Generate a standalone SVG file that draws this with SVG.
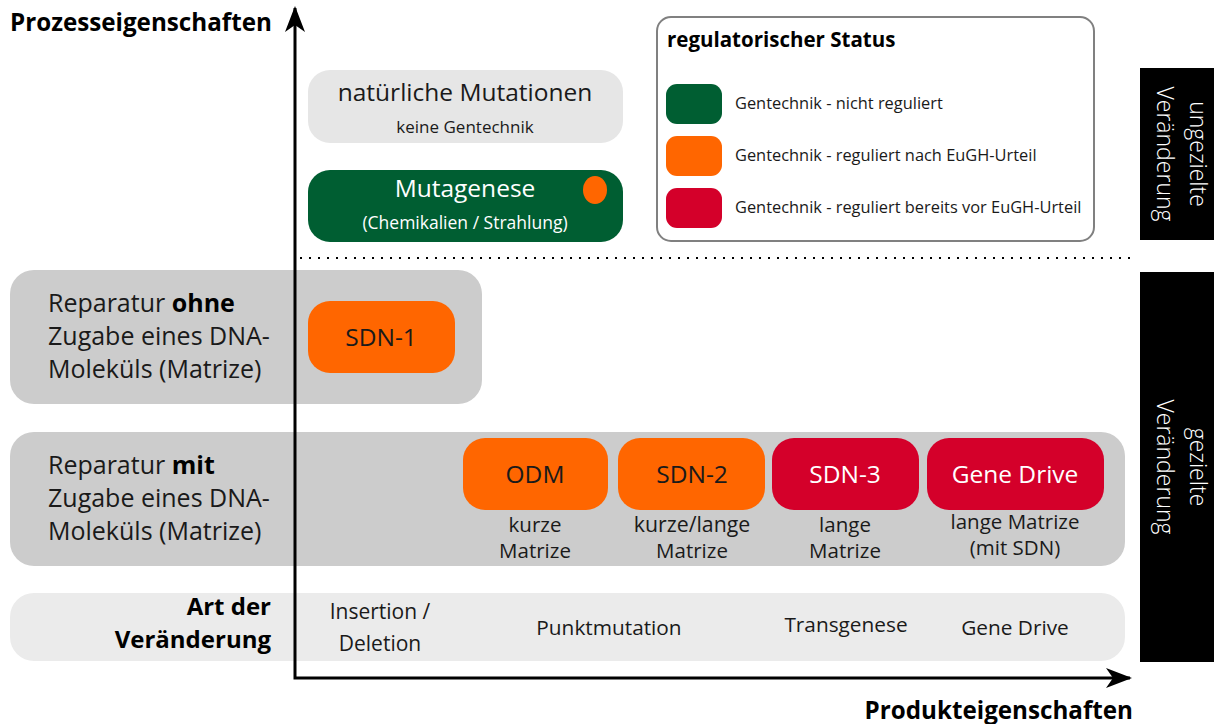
<svg xmlns="http://www.w3.org/2000/svg" width="1214" height="724" viewBox="0 0 1214 724">
<style>
text{font-family:"Open Sans","Noto Sans","Liberation Sans",sans-serif;fill:#1a1a1a}
.b{font-weight:700;fill:#000}
.big{font-size:24.5px}
.row{font-size:25px}
.mid{font-size:20.8px}
.cap{font-size:20.5px}
.sm{font-size:17px}
.lg{font-size:16.4px}
.c{text-anchor:middle}
.w{fill:#fff}
.or{fill:#ff6600}
.gr{fill:#005e32}
.rd{fill:#d4002a}
.side{font-size:23px;fill:#fff;font-weight:300;text-anchor:middle}
</style>
<defs>
<marker id="ah" markerUnits="userSpaceOnUse" markerWidth="30" markerHeight="24" viewBox="-26 -12 30 24" refX="0" refY="0" orient="auto-start-reverse">
<path d="M2,0 L-24,-10 L-17,0 L-24,10 Z" fill="#000"/>
</marker>
</defs>
<rect width="1214" height="724" fill="#fff"/>

<g id="row-ohne">
<rect x="10" y="270" width="472" height="134" rx="24" fill="#cccccc"/>
<text x="48" y="312" class="row">Reparatur <tspan class="b">ohne</tspan></text>
<text x="48" y="345" class="row">Zugabe eines DNA-</text>
<text x="48" y="378" class="row">Moleküls (Matrize)</text>
</g>
<g id="row-mit">
<rect x="10" y="432" width="1115" height="134" rx="24" fill="#cccccc"/>
<text x="48" y="474" class="row">Reparatur <tspan class="b">mit</tspan></text>
<text x="48" y="507" class="row">Zugabe eines DNA-</text>
<text x="48" y="540" class="row">Moleküls (Matrize)</text>
</g>
<g id="row-art">
<rect x="10" y="593" width="1115" height="68" rx="24" fill="#ebebeb"/>
<text x="271" y="615" class="b" font-size="24" text-anchor="end">Art der</text>
<text x="271" y="648" class="b" font-size="24" text-anchor="end">Veränderung</text>
<text x="380" y="619" class="c" font-size="21">Insertion /</text>
<text x="380" y="651" class="c" font-size="21">Deletion</text>
<text x="609" y="635" class="mid c">Punktmutation</text>
<text x="846" y="632" class="mid c">Transgenese</text>
<text x="1015" y="635" class="mid c">Gene Drive</text>
</g>

<g id="natuerliche">
<rect x="308" y="70" width="315" height="73" rx="22" fill="#e6e6e6"/>
<text x="465" y="101" class="big c">natürliche Mutationen</text>
<text x="465" y="133" class="sm c">keine Gentechnik</text>
</g>
<g id="mutagenese">
<rect x="308" y="170" width="315" height="72" rx="22" class="gr"/>
<text x="465" y="197" class="big c w">Mutagenese</text>
<text x="465" y="229" class="c w" font-size="17.5">(Chemikalien / Strahlung)</text>
<ellipse cx="595" cy="190" rx="12" ry="14" class="or"/>
</g>

<g id="legend">
<rect x="657" y="17" width="437" height="224" rx="14" fill="#fff" stroke="#808080" stroke-width="2"/>
<text x="667" y="47" class="b" font-size="20.5">regulatorischer Status</text>
<rect x="666" y="84" width="56" height="40" rx="11" class="gr"/>
<text x="735" y="109" class="lg">Gentechnik - nicht reguliert</text>
<rect x="666" y="136" width="56" height="40" rx="11" class="or"/>
<text x="735" y="161" class="lg">Gentechnik - reguliert nach EuGH-Urteil</text>
<rect x="666" y="188" width="56" height="40" rx="11" class="rd"/>
<text x="735" y="213" class="lg">Gentechnik - reguliert bereits vor EuGH-Urteil</text>
</g>

<g id="sdn1">
<rect x="308" y="301" width="147" height="72" rx="22" class="or"/>
<text x="381" y="346" class="big c">SDN-1</text>
</g>
<g id="odm">
<rect x="463" y="438" width="145" height="72" rx="22" class="or"/>
<text x="535" y="483" class="big c">ODM</text>
<text x="535" y="532" class="cap c">kurze</text>
<text x="535" y="558" class="cap c">Matrize</text>
</g>
<g id="sdn2">
<rect x="618" y="438" width="147" height="72" rx="22" class="or"/>
<text x="692" y="483" class="big c">SDN-2</text>
<text x="692" y="532" class="c" font-size="21.3">kurze/lange</text>
<text x="692" y="558" class="cap c">Matrize</text>
</g>
<g id="sdn3">
<rect x="772" y="438" width="147" height="72" rx="22" class="rd"/>
<text x="845" y="483" class="big c w">SDN-3</text>
<text x="845" y="532" class="cap c">lange</text>
<text x="845" y="558" class="cap c">Matrize</text>
</g>
<g id="genedrive">
<rect x="927" y="438" width="177" height="72" rx="22" class="rd"/>
<text x="1015" y="483" class="big c w">Gene Drive</text>
<text x="1015" y="529" class="cap c">lange Matrize</text>
<text x="1015" y="555" class="cap c">(mit SDN)</text>
</g>

<g id="bar-ungezielt">
<rect x="1140" y="68" width="74" height="172" fill="#000"/>
<g transform="translate(1177,154) rotate(90)">
<text x="0" y="-13" class="side">ungezielte</text>
<text x="0" y="20" class="side">Veränderung</text>
</g>
</g>
<g id="bar-gezielt">
<rect x="1140" y="272" width="74" height="390" fill="#000"/>
<g transform="translate(1177,467) rotate(90)">
<text x="0" y="-13" class="side">gezielte</text>
<text x="0" y="20" class="side">Veränderung</text>
</g>
</g>

<g id="axis-labels">
<text x="10" y="31" class="b" font-size="24.2">Prozesseigenschaften</text>
<text x="1133" y="719" class="b" font-size="24.2" text-anchor="end">Produkteigenschaften</text>
</g>

<g id="connectors">
<path d="M295,8 L295,678 L1130,678" fill="none" stroke="#000" stroke-width="3" marker-start="url(#ah)" marker-end="url(#ah)"/>
<line x1="300" y1="258" x2="1133" y2="258" stroke="#000" stroke-width="2" stroke-dasharray="2 7"/>
</g>
</svg>
